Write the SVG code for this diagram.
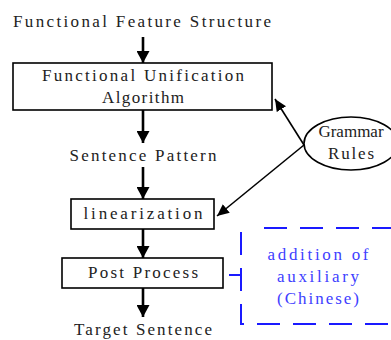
<svg xmlns="http://www.w3.org/2000/svg" width="391" height="340" viewBox="0 0 391 340">
  <style>
    text { font-family: "Liberation Serif", "DejaVu Serif", serif; font-size: 17px; fill: #222; text-anchor: middle; }
    .box { fill: #fff; stroke: #000; stroke-width: 1.6; }
    .flow { stroke: #000; stroke-width: 2.6; fill: none; }
    .rule { stroke: #000; stroke-width: 1.6; fill: none; }
    .note { fill: none; stroke: #1a1aff; stroke-width: 2; stroke-dasharray: 23 13; }
    .noteText { fill: #4040ff; }
    .link { stroke: #1a1aff; stroke-width: 2; fill: none; }
  </style>
  <defs>
    <marker id="bigHead" viewBox="0 0 12 13" refX="12" refY="6.5" markerWidth="12" markerHeight="13" markerUnits="userSpaceOnUse" orient="auto">
      <path d="M0,0 L12,6.5 L0,13 Z" fill="#000"/>
    </marker>
    <marker id="smallHead" viewBox="0 0 12 11" refX="12" refY="5.5" markerWidth="12" markerHeight="11" markerUnits="userSpaceOnUse" orient="auto">
      <path d="M0,0 L12,5.5 L0,11 Z" fill="#000"/>
    </marker>
  </defs>

  <g id="connectors">
    <line class="flow" x1="143" y1="37" x2="143" y2="63" marker-end="url(#bigHead)"/>
    <line class="flow" x1="143" y1="110" x2="143" y2="143" marker-end="url(#bigHead)"/>
    <line class="flow" x1="143" y1="167" x2="143" y2="199" marker-end="url(#bigHead)"/>
    <line class="flow" x1="143" y1="229" x2="143" y2="258" marker-end="url(#bigHead)"/>
    <line class="flow" x1="143" y1="288" x2="143" y2="317" marker-end="url(#bigHead)"/>
    <line class="rule" x1="304" y1="145" x2="275" y2="99" marker-end="url(#smallHead)"/>
    <line class="rule" x1="304" y1="145" x2="217" y2="216" marker-end="url(#smallHead)"/>
    <line class="link" x1="229" y1="275" x2="241" y2="275"/>
  </g>

  <g id="input">
    <text x="142" y="27" textLength="258" lengthAdjust="spacing">Functional Feature Structure</text>
  </g>

  <g id="unification">
    <rect class="box" x="13" y="63" width="259" height="47"/>
    <text x="143" y="81" textLength="202" lengthAdjust="spacing">Functional Unification</text>
    <text x="143" y="103" textLength="82" lengthAdjust="spacing">Algorithm</text>
  </g>

  <g id="pattern">
    <text x="143" y="161" textLength="147" lengthAdjust="spacing">Sentence Pattern</text>
  </g>

  <g id="linearization">
    <rect class="box" x="71" y="199" width="143" height="30"/>
    <text x="143" y="219" textLength="119" lengthAdjust="spacing">linearization</text>
  </g>

  <g id="postProcess">
    <rect class="box" x="62" y="258" width="161" height="30"/>
    <text x="143" y="278" textLength="110" lengthAdjust="spacing">Post Process</text>
  </g>

  <g id="target">
    <text x="143" y="335" textLength="138" lengthAdjust="spacing">Target Sentence</text>
  </g>

  <g id="grammarRules">
    <ellipse class="box" cx="351" cy="143.5" rx="47" ry="26.5"/>
    <text x="351" y="137">Grammar</text>
    <text x="351" y="159" textLength="46" lengthAdjust="spacing">Rules</text>
  </g>

  <g id="auxiliaryNote">
    <path class="note" d="M241,232 L241,324 L395,324"/>
    <path class="note" d="M395,228 L251,228"/>
    <text class="noteText" x="318" y="260" textLength="101" lengthAdjust="spacing">addition of</text>
    <text class="noteText" x="318" y="282" textLength="82" lengthAdjust="spacing">auxiliary</text>
    <text class="noteText" x="318" y="304" textLength="82" lengthAdjust="spacing">(Chinese)</text>
  </g>
</svg>
